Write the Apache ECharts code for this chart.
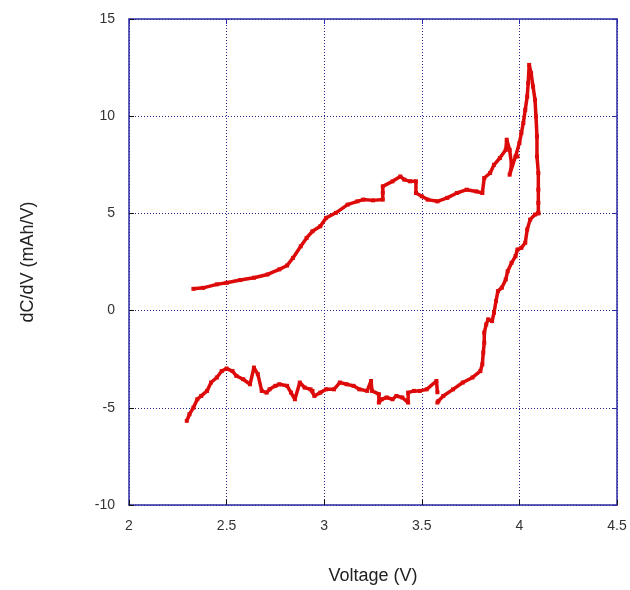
<!DOCTYPE html>
<html>
<head>
<meta charset="utf-8">
<script src="https://cdn.jsdelivr.net/npm/echarts@6/dist/echarts.min.js"></script>
<style>
html, body { margin: 0; padding: 0; background: #fff; }
#dcdvChart { width: 630px; height: 590px; }
</style>
</head>
<body>
<div id="dcdvChart"></div>
<script>
// charge branch: voltage (V) and dC/dV (mAh/V)
const chargeV = [2.33, 2.38, 2.45, 2.50, 2.57, 2.64, 2.71, 2.77, 2.81, 2.84, 2.88, 2.91, 2.94, 2.98, 3.01, 3.06, 3.12, 3.17, 3.20, 3.25, 3.30, 3.30, 3.30, 3.35, 3.39, 3.41, 3.44, 3.47, 3.47, 3.50, 3.53, 3.58, 3.63, 3.68, 3.73, 3.78, 3.81, 3.82, 3.85, 3.87, 3.90, 3.93, 3.935, 3.95, 3.96, 3.95, 3.98, 3.99, 4.00, 4.01, 4.02, 4.03, 4.04, 4.045, 4.05, 4.06, 4.07, 4.08, 4.085, 4.09, 4.09, 4.097, 4.097, 4.097, 4.097];
const chargeY = [1.12, 1.17, 1.35, 1.43, 1.57, 1.69, 1.86, 2.12, 2.32, 2.71, 3.31, 3.74, 4.08, 4.34, 4.77, 5.03, 5.45, 5.62, 5.71, 5.67, 5.71, 6.07, 6.39, 6.65, 6.90, 6.74, 6.65, 6.65, 6.05, 5.88, 5.71, 5.62, 5.80, 6.05, 6.22, 6.13, 6.05, 6.82, 7.08, 7.50, 7.85, 8.27, 8.79, 8.27, 7.50, 6.99, 7.93, 7.93, 8.62, 9.13, 9.65, 10.33, 11.01, 11.70, 12.64, 12.21, 11.52, 10.84, 9.98, 8.96, 7.93, 7.08, 6.22, 5.54, 5.03];

// discharge branch, from high voltage down
const dischargeV = [4.097, 4.08, 4.055, 4.04, 4.03, 4.01, 3.99, 3.98, 3.96, 3.94, 3.93, 3.91, 3.89, 3.88, 3.87, 3.86, 3.84, 3.83, 3.82, 3.82, 3.815, 3.81, 3.80, 3.76, 3.71, 3.66, 3.61, 3.585, 3.58, null, 3.58, 3.575, 3.525, 3.49, 3.46, 3.43, 3.43, 3.40, 3.37, 3.35, 3.32, 3.295, 3.28, 3.28, 3.245, 3.24, 3.22, 3.18, 3.15, 3.115, 3.08, 3.05, 3.01, 2.98, 2.95, 2.93, 2.94, 2.90, 2.875, 2.85, 2.83, 2.81, 2.77, 2.75, 2.72, 2.705, 2.68, 2.66, 2.64, 2.62, 2.585, 2.55, 2.53, 2.50, 2.475, 2.45, 2.42, 2.40, 2.37, 2.35, 2.33, 2.31, 2.296];
const dischargeY = [5.0, 4.94, 4.68, 4.17, 3.49, 3.23, 3.14, 2.80, 2.46, 2.03, 1.60, 1.18, 1.00, 0.49, -0.11, -0.54, -0.45, -0.71, -1.13, -1.65, -2.16, -2.76, -3.11, -3.44, -3.70, -4.05, -4.39, -4.65, -4.73, null, -4.20, -3.62, -4.05, -4.13, -4.13, -4.22, -4.73, -4.47, -4.39, -4.56, -4.47, -4.56, -4.73, -4.30, -4.13, -3.62, -4.13, -4.05, -3.87, -3.79, -3.70, -4.05, -4.05, -4.22, -4.39, -4.05, -4.13, -3.96, -3.70, -4.56, -4.22, -3.87, -3.79, -3.87, -4.05, -4.22, -4.13, -3.27, -2.93, -3.79, -3.53, -3.36, -3.11, -2.98, -3.11, -3.44, -3.70, -4.13, -4.39, -4.56, -4.99, -5.33, -5.67];

const xTicks = [2, 2.5, 3, 3.5, 4, 4.5];
const yTicks = [-10, -5, 0, 5, 10, 15];

function pairs(xs, ys) {
	return xs.map((x, i) => (x === null ? "-" : [x, ys[i]]));
}

const chart = echarts.init(document.getElementById("dcdvChart"));
const frameColor = "#2b2ba3";
const gridColor = "#24248c";
const font = "Liberation Sans, Arial, sans-serif";
const labelStyle = { color: "#333", fontSize: 14, fontFamily: font };
let option = {
	animation: false,
	grid: { left: 129, right: 13, top: 19, bottom: 84 },
	xAxis: [
		{
			type: "value",
			min: xTicks[0],
			max: xTicks[xTicks.length - 1],
			interval: 0.5,
			name: "Voltage (V)",
			nameLocation: "middle",
			nameGap: 62,
			nameTextStyle: { color: "#222", fontSize: 18, fontFamily: font },
			axisLine: { onZero: false, lineStyle: { color: frameColor, width: 1.5 } },
			axisTick: { inside: true, length: 5, lineStyle: { color: "#111" } },
			axisLabel: Object.assign({ margin: 14 }, labelStyle),
			splitLine: { lineStyle: { color: gridColor, type: [1, 2], width: 1 } },
		},
		{
			type: "value",
			position: "top",
			min: xTicks[0],
			max: xTicks[xTicks.length - 1],
			interval: 0.5,
			axisLine: { onZero: false, lineStyle: { color: frameColor, width: 1.5 } },
			axisTick: { inside: true, length: 5, lineStyle: { color: frameColor } },
			axisLabel: { show: false },
			splitLine: { show: false },
		},
	],
	yAxis: [
		{
			type: "value",
			min: yTicks[0],
			max: yTicks[yTicks.length - 1],
			interval: 5,
			name: "dC/dV (mAh/V)",
			nameLocation: "middle",
			nameGap: 92,
			nameTextStyle: { color: "#222", fontSize: 18, fontFamily: font },
			axisLine: { show: true, onZero: false, lineStyle: { color: frameColor, width: 1.5 } },
			axisTick: { show: true, inside: true, length: 5, lineStyle: { color: "#111" } },
			axisLabel: Object.assign({ margin: 14 }, labelStyle),
			splitLine: { lineStyle: { color: gridColor, type: [1, 2], width: 1 } },
		},
		{
			type: "value",
			position: "right",
			min: yTicks[0],
			max: yTicks[yTicks.length - 1],
			interval: 5,
			axisLine: { show: true, onZero: false, lineStyle: { color: frameColor, width: 1.5 } },
			axisTick: { show: true, inside: true, length: 5, lineStyle: { color: frameColor } },
			axisLabel: { show: false },
			splitLine: { show: false },
		},
	],
	series: [
		{
			name: "charge",
			type: "line",
			data: pairs(chargeV, chargeY),
			symbol: "rect",
			symbolSize: 4,
			itemStyle: { color: "#dd0a0a" },
			lineStyle: { color: "#dd0a0a", width: 3.5 },
		},
		{
			name: "discharge",
			type: "line",
			data: pairs(dischargeV, dischargeY),
			symbol: "rect",
			symbolSize: 4,
			connectNulls: false,
			itemStyle: { color: "#dd0a0a" },
			lineStyle: { color: "#dd0a0a", width: 3.5 },
		},
	],
};
chart.setOption(option, true);
</script>
</body>
</html>
